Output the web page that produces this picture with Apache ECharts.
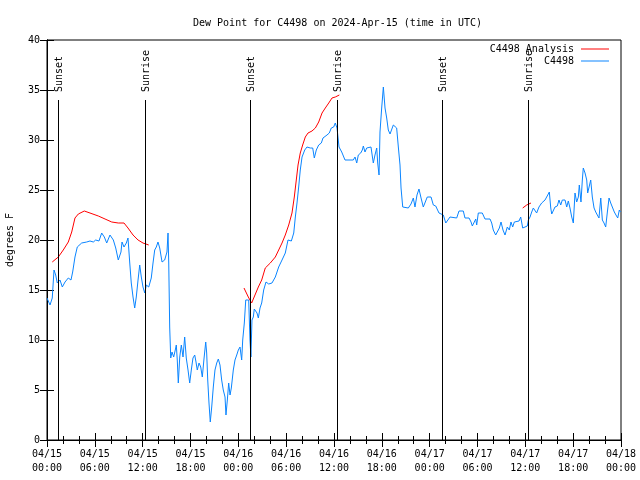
<!DOCTYPE html>
<html>
<head>
<meta charset="utf-8">
<script src="https://cdn.jsdelivr.net/npm/echarts@6/dist/echarts.min.js"></script>
<style>html,body{margin:0;padding:0;background:#fff}#c{width:640px;height:480px}</style>
</head>
<body>
<div id="c"></div>
<script>
// Hours since 2024-04-15 00:00 UTC
const stationHours = [0.0,0.38,0.66,0.88,1.09,1.29,1.63,1.92,2.26,2.67,3.01,3.22,3.51,3.80,4.35,4.98,5.39,5.81,6.11,6.52,6.86,7.19,7.49,7.90,8.32,8.62,8.94,9.28,9.41,9.66,9.95,10.16,10.37,10.57,10.79,11.00,11.20,11.42,11.63,11.83,12.04,12.26,12.46,12.76,13.08,13.30,13.51,13.71,13.92,14.14,14.43,14.76,15.05,15.18,15.27,15.39,15.52,15.68,15.89,16.09,16.22,16.34,16.47,16.65,16.85,17.06,17.27,17.47,17.69,17.90,18.10,18.31,18.53,18.69,18.85,19.07,19.28,19.48,19.69,19.91,20.03,20.16,20.32,20.48,20.66,20.86,21.07,21.29,21.49,21.70,21.91,22.11,22.33,22.45,22.62,22.79,22.96,23.12,23.37,23.58,23.80,24.00,24.21,24.42,24.55,24.75,24.93,25.30,25.46,25.58,25.71,25.88,26.00,26.18,26.34,26.51,26.72,26.93,27.18,27.47,27.81,28.22,28.64,29.06,29.48,29.89,30.23,30.65,30.95,31.15,31.36,31.57,31.77,31.99,32.33,32.61,33.03,33.33,33.53,33.78,34.08,34.41,34.62,34.83,35.12,35.41,35.66,35.96,36.16,36.38,36.63,36.97,37.38,38.42,38.64,38.85,39.05,39.35,39.55,39.68,39.89,40.10,40.30,40.64,40.93,41.14,41.36,41.48,41.65,41.77,41.98,42.19,42.40,42.61,42.81,43.03,43.24,43.44,43.65,43.86,44.07,44.28,44.41,44.62,45.32,45.66,45.95,46.16,46.41,46.66,46.92,47.20,47.42,47.70,48.17,48.46,48.76,48.96,49.17,49.71,50.02,50.27,50.55,51.39,51.68,52.22,52.43,52.94,53.19,53.35,53.60,53.78,53.90,54.10,54.60,54.94,55.57,55.78,55.98,56.28,56.53,56.74,56.95,57.20,57.45,57.74,57.99,58.20,58.41,58.62,59.21,59.42,59.67,59.96,60.25,60.38,60.59,60.80,61.00,61.21,61.42,61.71,62.05,62.47,62.81,63.01,63.19,63.31,63.51,63.72,64.01,64.22,64.44,64.64,64.98,65.19,65.39,65.60,65.82,66.02,66.23,66.44,66.65,66.77,66.98,67.15,67.27,67.49,67.70,67.82,68.03,68.20,68.40,68.62,68.83,69.03,69.24,69.46,69.66,69.87,70.08,70.29,70.50,70.71,70.96,71.16,71.37,71.59,71.79,71.94];
const stationDewPoint = [14.2,13.5,14.2,17.0,16.5,15.7,16.0,15.3,15.8,16.2,16.0,16.8,18.3,19.3,19.7,19.8,19.9,19.8,20.0,19.9,20.7,20.3,19.7,20.5,20.0,19.2,18.0,18.8,19.8,19.3,19.7,20.2,17.8,15.7,14.3,13.2,14.3,16.0,17.5,16.3,15.3,14.7,15.5,15.3,16.2,17.7,19.0,19.3,19.8,19.2,17.8,18.0,18.8,20.7,17.7,11.3,8.2,8.8,8.3,9.0,9.5,8.0,5.7,8.3,9.5,8.3,10.3,8.2,7.0,5.7,7.0,8.2,8.5,7.8,7.0,7.7,7.3,6.3,8.1,9.8,8.7,6.0,3.7,1.8,3.3,5.3,7.0,7.7,8.1,7.5,6.0,5.0,4.3,2.5,4.0,5.7,4.5,5.2,7.0,8.0,8.5,9.0,9.3,8.0,10.0,11.7,14.0,14.0,10.0,8.3,12.0,12.3,13.1,13.1,12.7,12.2,13.2,13.7,15.0,15.8,15.6,15.7,16.3,17.3,18.0,18.7,20.0,19.9,20.7,22.3,23.7,25.3,27.0,28.3,29.0,29.3,29.2,29.2,28.2,29.0,29.5,29.7,30.2,30.0,30.5,30.7,31.2,31.3,31.7,31.2,29.3,28.8,28.0,28.0,28.3,27.7,28.5,28.7,29.0,29.4,28.8,29.2,29.4,29.3,27.7,28.5,29.2,27.7,26.5,30.8,33.2,35.3,33.2,32.2,31.0,30.6,30.8,31.5,31.7,31.2,29.3,27.5,25.2,23.3,23.2,23.6,24.2,23.3,24.5,25.1,24.2,23.3,23.5,24.3,24.3,23.5,23.4,23.2,22.7,22.5,21.7,21.7,22.3,22.2,22.9,22.9,22.2,22.2,21.8,21.4,21.4,22.1,21.5,22.7,22.7,22.1,22.1,21.7,21.0,20.5,20.5,21.2,21.8,21.0,20.5,21.3,21.0,21.8,21.3,21.8,21.9,22.3,21.2,21.3,21.4,22.0,22.3,22.8,23.2,23.2,22.7,23.3,23.7,24.0,24.5,24.8,23.2,22.6,22.6,23.3,23.4,24.0,23.5,24.0,24.0,23.3,23.9,23.2,22.3,21.7,24.7,23.8,24.3,25.5,23.8,26.0,27.2,26.7,26.0,24.7,24.5,26.0,24.3,23.2,22.8,22.5,22.2,24.2,22.0,21.7,21.3,22.8,24.2,23.7,23.2,22.8,22.5,22.2,23.0,22.8];

// Analysis: null values separate the three runs
const analysisHours = [0.66,1.42,2.04,2.67,3.10,3.51,3.93,4.68,5.39,6.44,7.28,8.12,8.94,9.66,10.16,10.79,11.42,12.04,12.76,18.0,24.71,25.25,25.67,26.09,26.51,26.93,27.38,28.01,28.64,29.06,29.48,29.89,30.32,30.73,31.02,31.27,31.49,31.77,32.07,32.40,32.74,33.24,33.66,34.08,34.50,34.91,35.34,35.75,36.16,36.67,48.0,59.67,60.17,60.71];
const analysisDewPoint = [17.8,18.3,19.0,19.8,20.8,22.2,22.6,22.9,22.7,22.4,22.1,21.8,21.7,21.7,21.2,20.5,20.0,19.7,19.5,null,15.2,14.3,13.7,14.5,15.3,16.0,17.2,17.7,18.3,19.0,19.7,20.5,21.5,22.7,24.3,26.0,27.5,28.7,29.5,30.3,30.7,30.9,31.2,31.8,32.7,33.2,33.7,34.2,34.3,34.5,null,23.2,23.5,23.7];

const sunHours = [1.42, 12.33, 25.50, 36.41, 49.58, 60.37];
const sunLabels = ['Sunset', 'Sunrise', 'Sunset', 'Sunrise', 'Sunset', 'Sunrise'];

const xTickDays = ['04/15', '04/16', '04/17', '04/18'];

const FONT = 'DejaVu Sans Mono';
const pad = n => (n < 10 ? '0' : '') + n;

const chart = echarts.init(document.getElementById('c'), null, {renderer: 'canvas'});

const xBase = {
  type: 'value', min: 0, max: 72, interval: 6,
  axisLine: {show: true, lineStyle: {color: '#000', width: 1}},
  axisTick: {show: true, inside: true, length: 7, lineStyle: {color: '#000'}},
  minorTick: {show: true, splitNumber: 3, length: 4, lineStyle: {color: '#000'}},
  splitLine: {show: false}
};
const yBase = {
  type: 'value', min: 0, max: 40, interval: 5,
  axisLine: {show: true, lineStyle: {color: '#000', width: 1}},
  axisTick: {show: true, inside: true, length: 7, lineStyle: {color: '#000'}},
  splitLine: {show: false}
};

chart.setOption({
  animation: false,
  backgroundColor: '#fff',
  title: {
    text: 'Dew Point for C4498 on 2024-Apr-15 (time in UTC)',
    left: 188, top: 13,
    textStyle: {fontFamily: FONT, fontSize: 10, fontWeight: 'normal', color: '#000'}
  },
  grid: {left: 47, right: 19, top: 40, bottom: 40, containLabel: false, outerBoundsMode: 'none',
         show: true, borderColor: '#000', borderWidth: 1, backgroundColor: 'transparent'},
  legend: [
    {data: [{name: 'C4498 Analysis', icon: 'rect'}], right: 31, top: 44, orient: 'vertical', align: 'right',
     itemWidth: 28, itemHeight: 1, itemGap: 0, padding: 0,
     textStyle: {fontFamily: FONT, fontSize: 10, color: '#000', padding: [0, 2, 0, 0]}},
    {data: [{name: 'C4498', icon: 'rect'}], right: 31, top: 56, orient: 'vertical', align: 'right',
     itemWidth: 28, itemHeight: 1, itemGap: 0, padding: 0,
     textStyle: {fontFamily: FONT, fontSize: 10, color: '#000', padding: [0, 2, 0, 0]}}
  ],
  xAxis: [
    Object.assign({}, xBase, {
      position: 'bottom',
      axisLabel: {
        show: true, margin: 7, color: '#000', fontFamily: FONT, fontSize: 10, lineHeight: 14,
        formatter: v => {
          const d = Math.floor(v / 24);
          const h = v - d * 24;
          return xTickDays[d] + '\n' + pad(h) + ':00';
        }
      }
    }),
    Object.assign({}, xBase, {position: 'top', axisLabel: {show: false}})
  ],
  yAxis: [
    Object.assign({}, yBase, {
      position: 'left',
      name: 'degrees F', nameLocation: 'middle', nameGap: 32, nameRotate: 90,
      nameTextStyle: {fontFamily: FONT, fontSize: 10, color: '#000'},
      axisLabel: {show: true, margin: 7, color: '#000', fontFamily: FONT, fontSize: 10}
    }),
    Object.assign({}, yBase, {position: 'right', axisLabel: {show: false}})
  ],
  series: [
    {
      name: 'C4498 Analysis', type: 'line', xAxisIndex: 0, yAxisIndex: 0,
      data: analysisHours.map((h, i) => [h, analysisDewPoint[i] === null ? '-' : analysisDewPoint[i]]),
      showSymbol: false, symbol: 'none', connectNulls: false,
      itemStyle: {color: '#ff0000'},
      lineStyle: {color: '#ff0000', width: 1}
    },
    {
      name: 'C4498', type: 'line', xAxisIndex: 0, yAxisIndex: 0,
      data: stationHours.map((h, i) => [h, stationDewPoint[i]]),
      showSymbol: false, symbol: 'none',
      itemStyle: {color: '#0a85ff'},
      lineStyle: {color: '#0a85ff', width: 1}
    },
    {
      name: 'sun', type: 'custom', xAxisIndex: 0, yAxisIndex: 0,
      data: sunHours.map(h => [h, 0]),
      silent: true, z: 5,
      renderItem: (params, api) => {
        const h = api.value(0);
        const p0 = api.coord([h, 0]);
        const p1 = api.coord([h, 34.0]);
        const pt = api.coord([h, 34.8]);
        const x = Math.round(p0[0]) + 0.5;
        return {
          type: 'group',
          children: [
            {type: 'line', shape: {x1: x, y1: p0[1], x2: x, y2: p1[1]}, style: {stroke: '#000', lineWidth: 1}},
            {type: 'text', x: x + 1, y: pt[1], rotation: Math.PI / 2,
             style: {text: sunLabels[params.dataIndex], fontFamily: FONT, fontSize: 10, fill: '#000', align: 'left', verticalAlign: 'middle'}}
          ]
        };
      }
    }
  ]
});
</script>
</body>
</html>
